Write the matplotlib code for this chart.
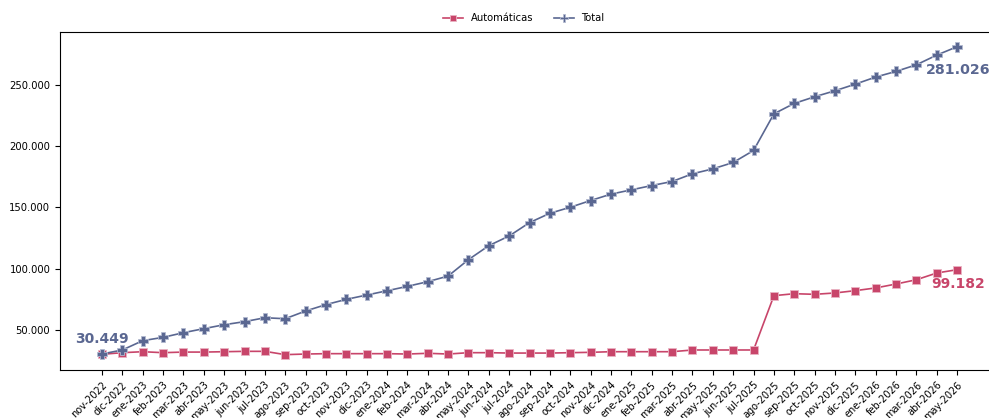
import matplotlib
matplotlib.use("Agg")
import matplotlib.pyplot as plt
from matplotlib.ticker import FuncFormatter

months = ["nov-2022", "dic-2022",
          "ene-2023", "feb-2023", "mar-2023", "abr-2023", "may-2023", "jun-2023",
          "jul-2023", "ago-2023", "sep-2023", "oct-2023", "nov-2023", "dic-2023",
          "ene-2024", "feb-2024", "mar-2024", "abr-2024", "may-2024", "jun-2024",
          "jul-2024", "ago-2024", "sep-2024", "oct-2024", "nov-2024", "dic-2024",
          "ene-2025", "feb-2025", "mar-2025", "abr-2025", "may-2025", "jun-2025",
          "jul-2025", "ago-2025", "sep-2025", "oct-2025", "nov-2025", "dic-2025",
          "ene-2026", "feb-2026", "mar-2026", "abr-2026", "may-2026"]

automaticas = [30200, 31500, 32300, 31500, 32000, 32000, 32300, 32600, 32600, 29900,
               30400, 30700, 30700, 30700, 30700, 30400, 31000, 30400, 31500, 31500,
               31200, 31200, 31200, 31500, 31800, 32300, 32300, 32300, 32300, 33700,
               33700, 33700, 33700, 78000, 79600, 79100, 80200, 82100, 84300, 87500,
               91000, 96500, 99182]

total = [30449, 33700, 41300, 44000, 47800, 51100, 54300, 56800, 60000, 59200,
         65500, 70700, 75000, 78500, 82000, 85600, 89400, 94000, 107400, 118800,
         126700, 137600, 145200, 150100, 155600, 160800, 164300, 167800, 171100, 177400,
         181400, 186600, 196400, 226300, 234800, 240200, 245100, 250500, 256300, 260900,
         266300, 274200, 281026]

c_auto = "#c8456a"
c_total = "#5a6791"

fig = plt.figure(figsize=(9.89, 4.18), dpi=100)
ax = fig.add_axes([0.0607, 0.1148, 0.938, 0.8086])

x = list(range(len(months)))
ax.plot(x, automaticas, color=c_auto, marker="s", markersize=5.5, lw=1.2,
        markeredgecolor="#eab3c3", markeredgewidth=0.6, label="Automáticas")
ax.plot(x, total, color=c_total, marker="P", markersize=6.5, lw=1.2,
        markeredgecolor="#b3bad0", markeredgewidth=0.6, label="Total")

def fmt(v):
    return f"{int(round(v)):,}".replace(",", ".")

ax.annotate(fmt(total[0]), (x[0], total[0]), xytext=(-19, 6), textcoords="offset points",
            color=c_total, fontsize=10, fontweight="bold", ha="left", va="bottom")
ax.annotate(fmt(total[-1]), (x[-1], total[-1]), xytext=(-22.5, -12), textcoords="offset points",
            color=c_total, fontsize=10.2, fontweight="bold", ha="left", va="top")
ax.annotate(fmt(automaticas[-1]), (x[-1], automaticas[-1]), xytext=(-19, -5), textcoords="offset points",
            color=c_auto, fontsize=10, fontweight="bold", ha="left", va="top")

ax.set_xlim(-2.06, 43.5)
ax.set_ylim(17370, 293000)
ax.set_yticks([50000, 100000, 150000, 200000, 250000])
ax.yaxis.set_major_formatter(FuncFormatter(lambda v, p: fmt(v)))
ax.set_xticks(x)
ax.set_xticklabels(months, rotation=45, ha="right", rotation_mode="anchor", fontsize=7)
ax.tick_params(axis="y", labelsize=7.2)
ax.spines["right"].set_visible(False)

ax.legend(loc="lower center", bbox_to_anchor=(0.5, 1.0), ncol=2, frameon=False, fontsize=7.2,
          markerscale=0.9)

fig.savefig("out.png", dpi=100)
